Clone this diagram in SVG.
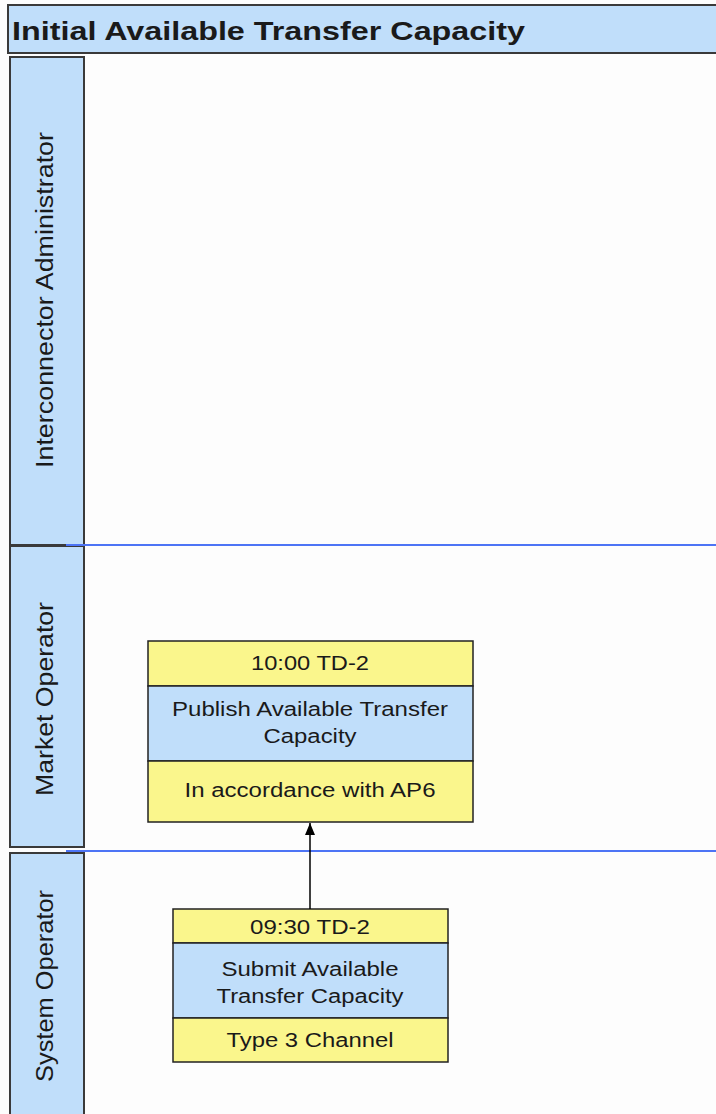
<svg xmlns="http://www.w3.org/2000/svg" width="716" height="1114" viewBox="0 0 716 1114">
<style>
text{font-family:"Liberation Sans",Arial,sans-serif;fill:#1a1a1a}
.hdr{fill:#c0defa;stroke:#3a3a3a;stroke-width:2}
.lane{font-size:23px}
.y{fill:#faf68c;stroke:#222;stroke-width:1.5}
.b{fill:#c0defa;stroke:#222;stroke-width:1.5}
.t{font-size:20px;text-anchor:middle}
.sep{stroke:#4d74f5;stroke-width:2}
</style>
<defs>
<marker id="ah" markerWidth="12" markerHeight="10" refX="12" refY="5" orient="auto" markerUnits="userSpaceOnUse" viewBox="0 0 12 10">
<path d="M0,0 L12,5 L0,10 Z" fill="#000"/>
</marker>
</defs>
<rect width="716" height="1114" fill="#fdfdfd"/>
<g id="title">
<rect x="8" y="5" width="712" height="48" class="hdr"/>
<text x="12" y="40" font-size="26" font-weight="bold" textLength="513" lengthAdjust="spacingAndGlyphs">Initial Available Transfer Capacity</text>
</g>
<g id="lane-interconnector">
<rect x="10" y="57" width="74" height="488" class="hdr"/>
<text class="lane" transform="rotate(-90 53 300)" x="53" y="300" text-anchor="middle" textLength="336" lengthAdjust="spacingAndGlyphs">Interconnector Administrator</text>
</g>
<g id="lane-market">
<rect x="10" y="546" width="74" height="301" class="hdr"/>
<text class="lane" transform="rotate(-90 53 699)" x="53" y="699" text-anchor="middle" textLength="194" lengthAdjust="spacingAndGlyphs">Market Operator</text>
</g>
<g id="lane-system">
<rect x="10" y="853" width="74" height="270" class="hdr"/>
<text class="lane" transform="rotate(-90 53 986)" x="53" y="986" text-anchor="middle" textLength="192" lengthAdjust="spacingAndGlyphs">System Operator</text>
</g>
<g id="separators">
<line x1="66" y1="545" x2="716" y2="545" class="sep"/>
<line x1="66" y1="851" x2="716" y2="851" class="sep"/>
</g>
<g id="node-publish">
<rect x="148" y="641" width="325" height="45" class="y"/>
<rect x="148" y="686" width="325" height="75" class="b"/>
<rect x="148" y="761" width="325" height="61" class="y"/>
<text class="t" x="310" y="670" textLength="118" lengthAdjust="spacingAndGlyphs">10:00 TD-2</text>
<text class="t" x="310" y="716" textLength="276" lengthAdjust="spacingAndGlyphs">Publish Available Transfer</text>
<text class="t" x="310" y="743" textLength="93" lengthAdjust="spacingAndGlyphs">Capacity</text>
<text class="t" x="310" y="797" textLength="251" lengthAdjust="spacingAndGlyphs">In accordance with AP6</text>
</g>
<g id="node-submit">
<rect x="173" y="909" width="275" height="34" class="y"/>
<rect x="173" y="943" width="275" height="75" class="b"/>
<rect x="173" y="1018" width="275" height="44" class="y"/>
<text class="t" x="310" y="934" textLength="120" lengthAdjust="spacingAndGlyphs">09:30 TD-2</text>
<text class="t" x="310" y="976" textLength="177" lengthAdjust="spacingAndGlyphs">Submit Available</text>
<text class="t" x="310" y="1003" textLength="187" lengthAdjust="spacingAndGlyphs">Transfer Capacity</text>
<text class="t" x="310" y="1047" textLength="167" lengthAdjust="spacingAndGlyphs">Type 3 Channel</text>
</g>
<g id="connectors">
<line x1="310" y1="909" x2="310" y2="823" stroke="#000" stroke-width="1.5" marker-end="url(#ah)"/>
</g>
</svg>
